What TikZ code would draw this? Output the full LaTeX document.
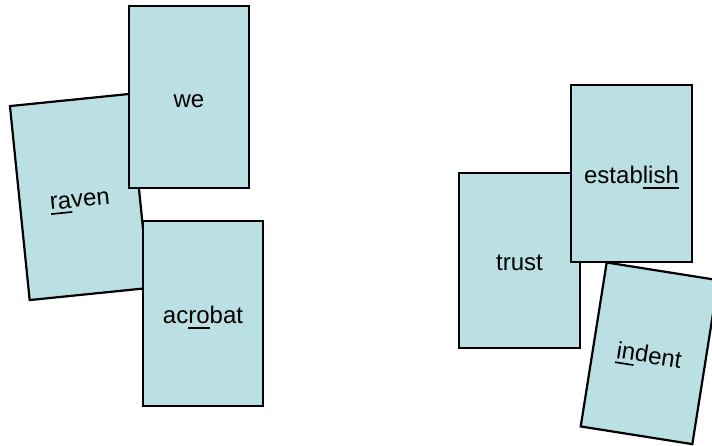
\documentclass[tikz,border=0pt]{standalone}
\usepackage{fontspec}
\setmainfont{Liberation Sans}
\definecolor{cardfill}{RGB}{187,224,227}
\tikzset{
  card/.style={draw=black, fill=cardfill, line width=2.2pt, rectangle, inner sep=0pt,
    text height=20pt, text depth=0pt, font=\fontsize{24}{28}\selectfont},
}
\newlength{\ulwidth}
\newcommand{\ulpart}[1]{\settowidth{\ulwidth}{#1}\rlap{\rule[-5pt]{\ulwidth}{1.7pt}}#1}
\begin{document}
\begin{tikzpicture}[x=1pt,y=-1pt]
\clip (0,0) rectangle (712,445);
\fill[white] (0,0) rectangle (712,445);
% left group
\node[card, minimum width=120pt, minimum height=195pt, rotate=5.8] (raven) at (79.5,197) {\ulpart{ra}ven};
\node[card, minimum width=120pt, minimum height=182pt] (we) at (189,97) {we};
\node[card, minimum width=120pt, minimum height=185pt] (acrobat) at (203,313.5) {ac\ulpart{ro}bat};
% right group
\node[card, minimum width=121pt, minimum height=175pt] (trust) at (519.5,260.5) {trust};
\node[card, minimum width=113pt, minimum height=166pt, rotate=-9] (indent) at (649.5,353.3) {\ulpart{in}dent};
\node[card, minimum width=121pt, minimum height=177pt] (establish) at (631.5,173.5) {estab\ulpart{lish}};
\end{tikzpicture}
\end{document}
